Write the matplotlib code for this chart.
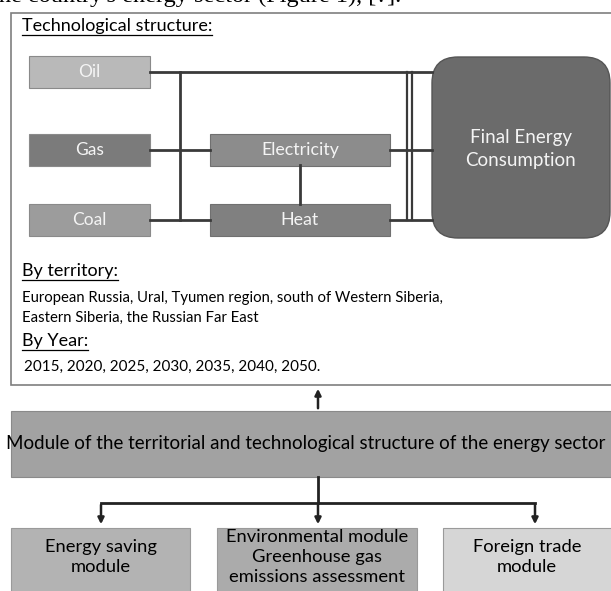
import matplotlib.pyplot as plt
from matplotlib.patches import Rectangle, FancyBboxPatch

plt.rcParams['font.family'] = ['Lato', 'DejaVu Sans']

# labels and texts of the diagram
source_labels = ['Oil', 'Gas', 'Coal']
source_colors = ['#b9b9b9', '#7b7b7b', '#9c9c9c']
carrier_labels = ['Electricity', 'Heat']
carrier_colors = ['#8c8c8c', '#808080']
final_label = 'Final Energy\nConsumption'
territories = ['European Russia, Ural, Tyumen region, south of Western Siberia,',
               'Eastern Siberia, the Russian Far East']
years = ['2015', '2020', '2025', '2030', '2035', '2040', '2050.']
main_module = 'Module of the territorial and technological structure of the energy sector'
sub_modules = ['Energy saving\nmodule',
               'Environmental module\nGreenhouse gas\nemissions assessment',
               'Foreign trade\nmodule']
sub_colors = ['#b3b3b3', '#ababab', '#d6d6d6']

fig = plt.figure(figsize=(6.11, 5.91), dpi=100)
ax = fig.add_axes([0, 0, 1, 1])
ax.set_xlim(0, 611)
ax.set_ylim(591, 0)
ax.axis('off')


def underlined(x, y, s, size):
    t = ax.text(x, y, s, fontsize=size, va='center')
    fig.canvas.draw()
    bb = t.get_window_extent().transformed(ax.transData.inverted())
    ax.plot([bb.x0, bb.x1], [y + 9, y + 9], color='black', lw=0.9)


# cut off line of the surrounding page
ax.text(-8, 2, "the country's energy sector (Figure 1), [?].", fontsize=17.5,
        family='Liberation Serif', va='baseline', ha='left')

# outer frame
ax.add_patch(Rectangle((11, 13), 610, 372, fc='white', ec='#7f7f7f', lw=1.2))
underlined(22, 26, 'Technological structure:', 13)

lc = '#3a3a3a'
# connecting lines
src_y = [72, 150, 220]
ax.plot([150, 432], [src_y[0], src_y[0]], color=lc, lw=2)
ax.plot([180, 180], [src_y[0], src_y[2]], color=lc, lw=2)
ax.plot([150, 210], [src_y[1], src_y[1]], color=lc, lw=2)
ax.plot([150, 210], [src_y[2], src_y[2]], color=lc, lw=2)
ax.plot([300, 300], [165, 204], color=lc, lw=2)
ax.plot([390, 432], [src_y[1], src_y[1]], color=lc, lw=2)
ax.plot([390, 432], [src_y[2], src_y[2]], color=lc, lw=2)
ax.plot([407, 407], [src_y[0], src_y[2]], color=lc, lw=1.6)
ax.plot([412, 412], [src_y[0], src_y[2]], color=lc, lw=1.6)

for lab, col, y in zip(source_labels, source_colors, src_y):
    ax.add_patch(Rectangle((29, y - 16), 121, 32, fc=col, ec='#8a8a8a', lw=0.8))
    ax.text(89.5, y, lab, color='#f4f4f4', fontsize=12.5, ha='center', va='center')

for lab, col, y in zip(carrier_labels, carrier_colors, src_y[1:]):
    ax.add_patch(Rectangle((210, y - 16), 180, 32, fc=col, ec='#707070', lw=0.8))
    ax.text(300, y, lab, color='#f4f4f4', fontsize=12.8, ha='center', va='center')

ax.add_patch(FancyBboxPatch((445, 70), 152, 155, boxstyle='round,pad=13,rounding_size=26',
                            fc='#6b6b6b', ec='#555555', lw=1))
ax.text(521, 149, final_label, color='#f4f4f4', fontsize=13.5, ha='center', va='center',
        linespacing=1.45)

# territory / years
underlined(22, 271, 'By territory:', 13)
ax.text(22, 298, territories[0], fontsize=10.7, va='center')
ax.text(22, 318, territories[1], fontsize=10.7, va='center')
underlined(22, 341, 'By Year:', 13)
ax.text(24, 367, ', '.join(years), fontsize=11, va='center')

# main module
ax.annotate('', xy=(318, 386), xytext=(318, 411),
            arrowprops=dict(arrowstyle='-|>', color='#222222', lw=1.8, mutation_scale=9))
ax.add_patch(Rectangle((11, 411), 610, 66, fc='#a2a2a2', ec='#8a8a8a', lw=0.8))
ax.text(306, 443, main_module, fontsize=13.5, ha='center', va='center')

# sub modules
ax.plot([318, 318], [477, 503], color='#222222', lw=2)
sub_x = [101, 318, 535]
ax.plot([sub_x[0], sub_x[2]], [503, 503], color='#222222', lw=2)
for x in sub_x:
    ax.annotate('', xy=(x, 527), xytext=(x, 502),
                arrowprops=dict(arrowstyle='-|>', color='#222222', lw=1.8, mutation_scale=9))

sub_boxes = [(11, 190), (217, 417), (443, 621)]
for (x0, x1), lab, col in zip(sub_boxes, sub_modules, sub_colors):
    ax.add_patch(Rectangle((x0, 528), x1 - x0, 70, fc=col, ec='#9a9a9a', lw=0.8))
for x, lab in zip([101, 317, 527], sub_modules):
    ax.text(x, 557, lab, fontsize=13.2, ha='center', va='center', linespacing=1.32)

fig.savefig('out.png', dpi=100)
